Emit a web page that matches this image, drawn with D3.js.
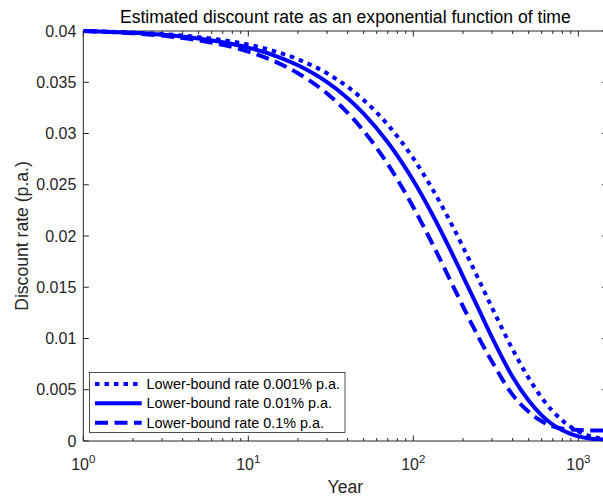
<!DOCTYPE html>
<html>
<head>
<meta charset="utf-8">
<script src="https://cdn.jsdelivr.net/npm/d3@7"></script>
<style>
  html, body { margin: 0; padding: 0; background: #fff; }
  svg { display: block; }
  text { font-family: "Liberation Sans", Arial, Helvetica, sans-serif; }
</style>
</head>
<body>
<div id="chart"></div>
<script>
// ---- data ----
const years = [1, 2, 3, 5, 7, 10, 15, 20, 30, 40, 50, 70, 100, 130, 170, 200, 250, 300, 400, 500, 600, 700, 800, 1000, 1200, 1500];
const rateLB0001 = [0.0400, 0.03984, 0.03970, 0.03940, 0.03911, 0.03867, 0.03795, 0.03724, 0.03587, 0.03455, 0.03327, 0.03086, 0.02757, 0.02463, 0.02119, 0.01893, 0.01569, 0.01300, 0.00893, 0.00614, 0.00422, 0.00290, 0.00199, 0.00094, 0.00045, 0.00015];
const rateLB001  = [0.0400, 0.03982, 0.03964, 0.03927, 0.03891, 0.03838, 0.03751, 0.03666, 0.03502, 0.03345, 0.03195, 0.02915, 0.02541, 0.02214, 0.01844, 0.01607, 0.01279, 0.01010, 0.00625, 0.00395, 0.00250, 0.00160, 0.00105, 0.00045, 0.00022, 0.00012];
const rateLB01   = [0.0400, 0.03977, 0.03955, 0.03909, 0.03865, 0.03799, 0.03692, 0.03588, 0.03390, 0.03202, 0.03025, 0.02701, 0.02281, 0.01929, 0.01546, 0.01313, 0.01004, 0.00774, 0.00450, 0.00285, 0.00192, 0.00142, 0.00120, 0.00108, 0.00103, 0.00101];
const seriesNames = ["Lower-bound rate 0.001% p.a.", "Lower-bound rate 0.01% p.a.", "Lower-bound rate 0.1% p.a."];
const yTicks = [0, 0.005, 0.01, 0.015, 0.02, 0.025, 0.03, 0.035, 0.04];
const yTickLabels = ["0", "0.005", "0.01", "0.015", "0.02", "0.025", "0.03", "0.035", "0.04"];
const xMajorTicks = [1, 10, 100, 1000];
const xTickExponents = ["0", "1", "2", "3"];
const titleText = "Estimated discount rate as an exponential function of time";
const xLabel = "Year";
const yLabel = "Discount rate (p.a.)";

// ---- layout ----
const W = 603, H = 500;
const pL = 83.3, pR = 607.4, pT = 31, pB = 441;
const axisColor = "#262626";
const blue = "#0000ff";

const svg = d3.select("#chart").append("svg")
  .attr("width", W).attr("height", H);

const x = d3.scaleLog().domain([1, 1500]).range([pL, pR]);
const y = d3.scaleLinear().domain([0, 0.04]).range([pB, pT]);

svg.append("defs").append("clipPath").attr("id", "plotclip")
  .append("rect").attr("x", pL).attr("y", pT - 3).attr("width", pR - pL).attr("height", pB - pT + 3);

// minor ticks for log axis
const xMinor = [];
for (let d = 1; d <= 1000; d *= 10) {
  for (let m = 2; m <= 9; m++) {
    const v = d * m;
    if (v <= 1500) xMinor.push(v);
  }
}

// bottom axis
const axB = svg.append("g").attr("transform", `translate(0,${pB})`);
axB.append("line").attr("x1", pL).attr("x2", pR).attr("y1", 0).attr("y2", 0)
  .attr("stroke", axisColor).attr("stroke-width", 1);
axB.selectAll("line.maj").data(xMajorTicks).join("line").attr("class", "maj")
  .attr("x1", d => x(d)).attr("x2", d => x(d)).attr("y1", 0).attr("y2", -5.5)
  .attr("stroke", axisColor);
axB.selectAll("line.min").data(xMinor).join("line").attr("class", "min")
  .attr("x1", d => x(d)).attr("x2", d => x(d)).attr("y1", 0).attr("y2", -3)
  .attr("stroke", axisColor);
const xl = axB.selectAll("text.tl").data(xMajorTicks).join("text").attr("class", "tl")
  .attr("x", d => x(d)).attr("y", 29)
  .attr("text-anchor", "middle").attr("font-size", 16).attr("fill", axisColor);
xl.append("tspan").text("10");
xl.append("tspan").attr("font-size", 11.5).attr("dy", -7).text((d, i) => xTickExponents[i]);

// top axis
const axT = svg.append("g").attr("transform", `translate(0,${pT})`);
axT.append("line").attr("x1", pL).attr("x2", pR).attr("stroke", axisColor);
axT.selectAll("line.maj").data(xMajorTicks).join("line").attr("class", "maj")
  .attr("x1", d => x(d)).attr("x2", d => x(d)).attr("y1", 0).attr("y2", 5.5).attr("stroke", axisColor);
axT.selectAll("line.min").data(xMinor).join("line").attr("class", "min")
  .attr("x1", d => x(d)).attr("x2", d => x(d)).attr("y1", 0).attr("y2", 3).attr("stroke", axisColor);

// left axis
const axL = svg.append("g");
axL.append("line").attr("x1", pL).attr("x2", pL).attr("y1", pT).attr("y2", pB).attr("stroke", axisColor);
axL.selectAll("line.t").data(yTicks).join("line").attr("class", "t")
  .attr("x1", pL).attr("x2", pL + 5.5).attr("y1", d => y(d)).attr("y2", d => y(d)).attr("stroke", axisColor);
axL.selectAll("text").data(yTicks).join("text")
  .attr("x", pL - 7).attr("y", d => y(d)).attr("dy", "0.35em")
  .attr("text-anchor", "end").attr("font-size", 16).attr("fill", axisColor)
  .text((d, i) => yTickLabels[i]);

// right axis
const axR = svg.append("g");
axR.append("line").attr("x1", pR).attr("x2", pR).attr("y1", pT).attr("y2", pB).attr("stroke", axisColor);
axR.selectAll("line.t").data(yTicks).join("line").attr("class", "t")
  .attr("x1", pR).attr("x2", pR - 5.5).attr("y1", d => y(d)).attr("y2", d => y(d)).attr("stroke", axisColor);

// lines
const series = [
  { name: seriesNames[0], values: rateLB0001, dash: "4.5,5" },
  { name: seriesNames[1], values: rateLB001, dash: null },
  { name: seriesNames[2], values: rateLB01, dash: "13,6.5" }
];
const line = d3.line()
  .x(d => x(d[0])).y(d => y(d[1]))
  .curve(d3.curveMonotoneX);

const plot = svg.append("g").attr("clip-path", "url(#plotclip)");
series.forEach(s => {
  plot.append("path")
    .datum(years.map((t, i) => [t, s.values[i]]))
    .attr("d", line)
    .attr("fill", "none")
    .attr("stroke", blue)
    .attr("stroke-width", 4)
    .attr("stroke-dasharray", s.dash);
});

// legend
const lg = svg.append("g");
lg.append("rect").attr("x", 89.5).attr("y", 372.5).attr("width", 255.5).attr("height", 60)
  .attr("fill", "#fff").attr("stroke", axisColor).attr("stroke-width", 0.8);
const rowY = [384, 403.3, 422.7];
series.forEach((s, i) => {
  lg.append("line").attr("x1", 95).attr("x2", 141.7).attr("y1", rowY[i]).attr("y2", rowY[i])
    .attr("stroke", blue).attr("stroke-width", 4).attr("stroke-dasharray", s.dash);
  lg.append("text").attr("x", 146.5).attr("y", rowY[i]).attr("dy", "0.35em")
    .attr("font-size", 14.4).attr("fill", "#000").text(s.name);
});

// title & labels
svg.append("text").attr("x", (pL + pR) / 2).attr("y", 23)
  .attr("text-anchor", "middle").attr("font-size", 17.6).attr("fill", "#000").text(titleText);
svg.append("text").attr("x", (pL + pR) / 2).attr("y", 493)
  .attr("text-anchor", "middle").attr("font-size", 17.6).attr("fill", axisColor).text(xLabel);
svg.append("text").attr("transform", `translate(28,${(pT + pB) / 2}) rotate(-90)`)
  .attr("text-anchor", "middle").attr("font-size", 17.6).attr("fill", axisColor).text(yLabel);
</script>
</body>
</html>
